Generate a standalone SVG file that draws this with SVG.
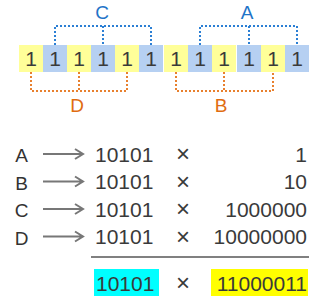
<svg xmlns="http://www.w3.org/2000/svg" width="328" height="307" viewBox="0 0 328 307">
<style>
.y{fill:#ffff99}
.b{fill:#b6d0f2}
.d{font-family:"Liberation Sans",Arial,sans-serif;font-size:21px;fill:#3a3a3a}
.bl{fill:none;stroke:#2b7fd4;stroke-width:2;stroke-dasharray:2 2}
.or{fill:none;stroke:#e8802e;stroke-width:2;stroke-dasharray:2 2}
.lt{font-family:"Liberation Sans",Arial,sans-serif;font-size:19px;text-anchor:middle}
.ar{fill:none;stroke:#777;stroke-width:2}
.m{font-family:"Liberation Sans",Arial,sans-serif;font-size:24px;fill:#3a3a3a;text-anchor:middle}
</style>
<rect width="328" height="307" fill="#fff"/>
<g id="cells">
<rect class="y" x="19" y="45" width="24" height="27"/>
<rect class="b" x="43" y="45" width="24" height="27"/>
<rect class="y" x="67" y="45" width="24" height="27"/>
<rect class="b" x="91" y="45" width="24" height="27"/>
<rect class="y" x="115" y="45" width="24" height="27"/>
<rect class="b" x="139" y="45" width="24" height="27"/>
<rect class="y" x="164" y="45" width="24" height="27"/>
<rect class="b" x="188" y="45" width="24" height="27"/>
<rect class="y" x="212" y="45" width="24" height="27"/>
<rect class="b" x="237" y="45" width="24" height="27"/>
<rect class="y" x="261" y="45" width="24" height="27"/>
<rect class="b" x="285" y="45" width="24" height="27"/>
<g class="d" text-anchor="middle">
<text x="31" y="66">1</text><text x="55" y="66">1</text><text x="79" y="66">1</text><text x="103" y="66">1</text><text x="127" y="66">1</text><text x="151" y="66">1</text>
<text x="176" y="66">1</text><text x="200" y="66">1</text><text x="224" y="66">1</text><text x="249" y="66">1</text><text x="273" y="66">1</text><text x="297" y="66">1</text>
</g>
</g>
<g id="connectors">
<path class="bl" d="M55,45V26H151V45M103,26V45"/>
<path class="bl" d="M200,45V26H297V45M249,26V45"/>
<path class="or" d="M31,72V91H127V72M79,72V91"/>
<path class="or" d="M176,72V91H273V72M224,72V91"/>
<path class="ar" d="M43,154H82M75,149L83,154L75,159"/>
<path class="ar" d="M43,181.5H82M75,176.5L83,181.5L75,186.5"/>
<path class="ar" d="M43,209H82M75,204L83,209L75,214"/>
<path class="ar" d="M43,236.5H82M75,231.5L83,236.5L75,241.5"/>
<path d="M91,257H309" stroke="#808080" stroke-width="2"/>
</g>
<g id="labels-top">
<text class="lt" x="102" y="19" fill="#1f74c8">C</text>
<text class="lt" x="247" y="19" fill="#1f74c8">A</text>
<text class="lt" x="77" y="112" fill="#e06c10">D</text>
<text class="lt" x="221" y="112" fill="#e06c10">B</text>
</g>
<g id="rows">
<g class="lt" fill="#333">
<text x="21.5" y="162">A</text>
<text x="21.5" y="189.5">B</text>
<text x="21.5" y="217">C</text>
<text x="21.5" y="244.5">D</text>
</g>
<g class="d">
<text x="95" y="161.5">10101</text>
<text x="95" y="189">10101</text>
<text x="95" y="216.5">10101</text>
<text x="95" y="244">10101</text>
</g>
<g class="m">
<text x="183" y="162">×</text>
<text x="183" y="189.5">×</text>
<text x="183" y="217">×</text>
<text x="183" y="244.5">×</text>
<text x="183" y="291">×</text>
</g>
<g class="d" text-anchor="end">
<text x="307" y="161.5">1</text>
<text x="307" y="189">10</text>
<text x="307" y="216.5">1000000</text>
<text x="307" y="244">10000000</text>
</g>
</g>
<g id="result">
<rect x="94" y="269" width="65" height="27" fill="#00ffff"/>
<rect x="211" y="269" width="97" height="27" fill="#ffff00"/>
<text class="d" x="96" y="291">10101</text>
<text class="d" x="307" y="291" text-anchor="end">11000011</text>
</g>
</svg>
